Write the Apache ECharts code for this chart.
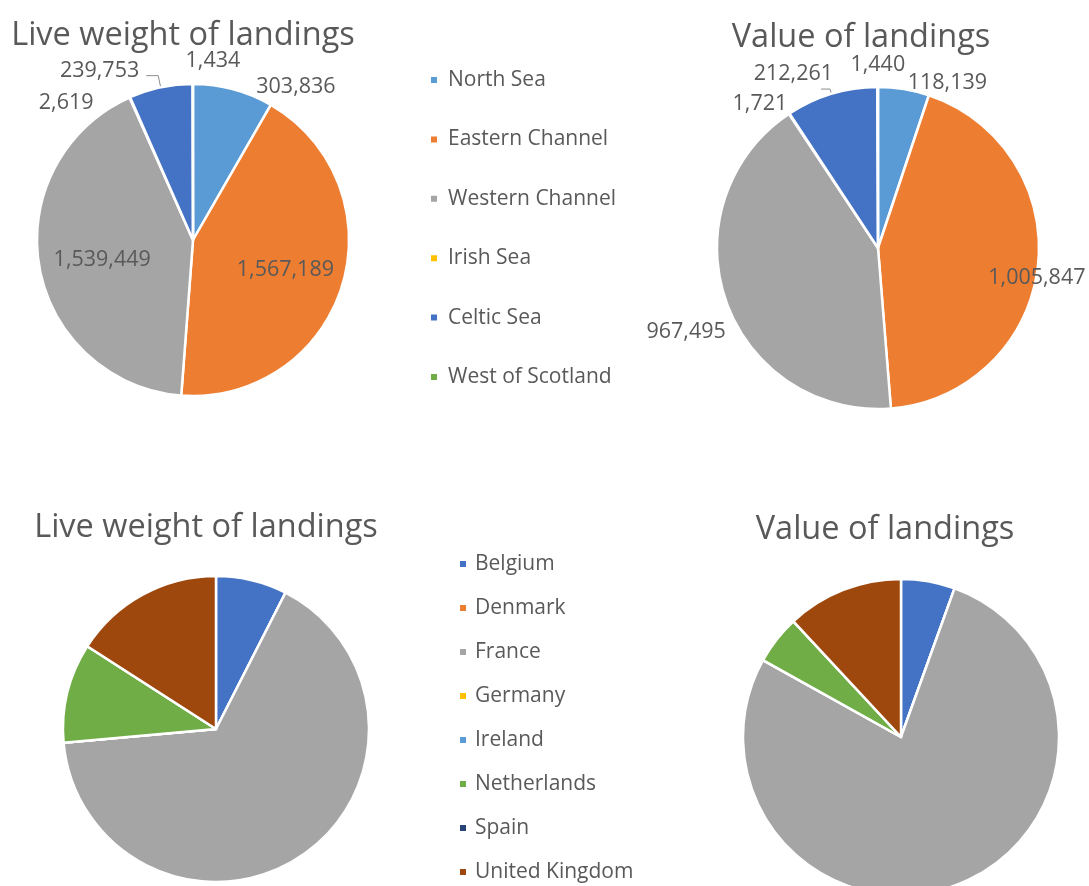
<!DOCTYPE html>
<html>
<head>
<meta charset="utf-8">
<script src="https://cdn.jsdelivr.net/npm/echarts@6/dist/echarts.min.js"></script>
<style>
  html, body { margin: 0; padding: 0; background: #fff; }
  #chart { width: 1089px; height: 886px; }
</style>
</head>
<body>
<div id="chart"></div>
<script>
// areas (top pair of pies)
const areas = ['North Sea', 'Eastern Channel', 'Western Channel', 'Irish Sea', 'Celtic Sea', 'West of Scotland'];
const areaWeight = [303836, 1567189, 1539449, 2619, 239753, 1434];
const areaValue = [118139, 1005847, 967495, 1721, 212261, 1440];

// countries (bottom pair, no labels shown)
const countries = ['Belgium', 'Denmark', 'France', 'Germany', 'Ireland', 'Netherlands', 'Spain', 'United Kingdom'];
const countryWeight = [274000, 0, 2412000, 0, 0, 384000, 0, 581000];
const countryValue = [127000, 0, 1790000, 0, 0, 115000, 0, 275000];

const areaColors = ['#5B9BD5', '#ED7D31', '#A5A5A5', '#FFC000', '#4472C4', '#70AD47'];
const countryColors = ['#4472C4', '#ED7D31', '#A5A5A5', '#FFC000', '#5B9BD5', '#70AD47', '#264478', '#9E480E'];

// label nudges from the library's default spot, Excel "best fit" look
// (Celtic Sea keeps an outside label with its little leader line)
const weightNudge = [[82, -75], [15, 6], [-11, 6], [-94, -63], [-2, -5], [20, -98]];
const valueNudge = [[56, -83], [76, 20], [-113, 57], [-72, -74], [17, -15], [0, -100]];

const FONT = 'Open Sans';
const GREY = '#595959';

function toData(names, vals, colors) {
  return names.map((n, i) => ({ name: n, value: vals[i], itemStyle: { color: colors[i] } }));
}

const fmt = v => v.value.toLocaleString('en-US');

const baseSeries = {
  type: 'pie',
  clockwise: true,
  startAngle: 90,
  avoidLabelOverlap: false,
  minShowLabelAngle: 0,
  itemStyle: { borderColor: '#fff', borderWidth: 2.5 },
  emphasis: { disabled: true }
};

function labelled(names, vals, colors, nudge, len, len2) {
  const data = toData(names, vals, colors);
  data[4].label = { position: 'outside' };
  data[4].labelLine = { show: true };
  return {
    data: data,
    label: { show: true, position: 'inside', formatter: fmt, fontSize: 21.5, color: GREY, fontFamily: FONT },
    labelLine: { show: false, length: len, length2: len2, lineStyle: { color: '#8c8c8c', width: 1 } },
    labelLayout: p => ({ dx: nudge[p.dataIndex][0], dy: nudge[p.dataIndex][1], hideOverlap: false })
  };
}

const chart = echarts.init(document.getElementById('chart'));
const titleStyle = { fontSize: 32.5, fontWeight: 'normal', color: GREY, fontFamily: FONT };
chart.setOption({
  animation: false,
  textStyle: { fontFamily: FONT },
  title: [
    { text: 'Live weight of landings', left: 183, top: 19, padding: 0, textAlign: 'center', textStyle: titleStyle },
    { text: 'Value of landings', left: 861, top: 21, padding: 0, textAlign: 'center', textStyle: titleStyle },
    { text: 'Live weight of landings', left: 206, top: 511, padding: 0, textAlign: 'center', textStyle: titleStyle },
    { text: 'Value of landings', left: 885, top: 513, padding: 0, textAlign: 'center', textStyle: titleStyle }
  ],
  legend: [
    {
      data: areas, orient: 'vertical', left: 429, top: 69, padding: 0,
      icon: 'rect', itemWidth: 8, itemHeight: 8, itemGap: 37.4,
      selectedMode: false,
      textStyle: { fontSize: 21, color: GREY, fontFamily: FONT, lineHeight: 22, padding: [0, 0, 0, 5] }
    },
    {
      data: countries, orient: 'vertical', left: 458, top: 553, padding: 0,
      icon: 'rect', itemWidth: 8, itemHeight: 8, itemGap: 22,
      selectedMode: false,
      textStyle: { fontSize: 21, color: GREY, fontFamily: FONT, lineHeight: 22, padding: [0, 0, 0, 3] }
    }
  ],
  series: [
    Object.assign({}, baseSeries, labelled(areas, areaWeight, areaColors, weightNudge, 12, 12), {
      name: 'Live weight by area', center: [193, 240], radius: 156
    }),
    Object.assign({}, baseSeries, labelled(areas, areaValue, areaColors, valueNudge, 5, 9), {
      name: 'Value by area', center: [878, 248], radius: 161
    }),
    Object.assign({}, baseSeries, {
      name: 'Live weight by country', center: [216, 729], radius: 153,
      data: toData(countries, countryWeight, countryColors),
      label: { show: false }, labelLine: { show: false }
    }),
    Object.assign({}, baseSeries, {
      name: 'Value by country', center: [901, 737], radius: 158,
      data: toData(countries, countryValue, countryColors),
      label: { show: false }, labelLine: { show: false }
    })
  ]
});
</script>
</body>
</html>
